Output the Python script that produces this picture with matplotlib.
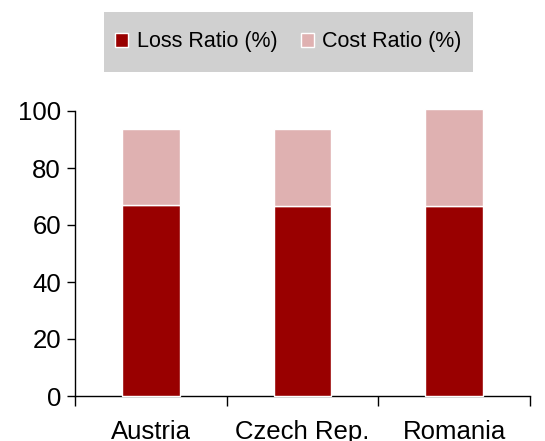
import matplotlib
matplotlib.use("Agg")
import matplotlib.pyplot as plt
from matplotlib.patches import Patch, Rectangle
import numpy as np

categories = ["Austria", "Czech Rep.", "Romania"]
loss_ratio = [67.1, 66.6, 66.6]
cost_ratio = [26.6, 27.0, 34.0]
series_names = ["Loss Ratio (%)", "Cost Ratio (%)"]
yticks = [0, 20, 40, 60, 80, 100]

dark = "#990000"
pink = "#DFB1B1"

plt.rcParams['font.family'] = ['Liberation Sans', 'DejaVu Sans']

fig = plt.figure(figsize=(5.45, 4.41), dpi=100)
ax = fig.add_axes([75/545, 1-396/441, (530-75)/545, (396-111)/441])

x = np.arange(len(categories))
w = 0.38
ax.bar(x, loss_ratio, w, color=dark, edgecolor="white", linewidth=1, clip_on=False, zorder=3)
ax.bar(x, cost_ratio, w, bottom=loss_ratio, color=pink, edgecolor="white", linewidth=1, clip_on=False, zorder=3)

ax.set_xlim(-0.5, len(categories)-0.5)
ax.set_ylim(0, 100)
ax.set_yticks(yticks)
ax.set_xticks(np.arange(len(categories)+1) - 0.5, minor=True)
ax.set_xticks(x)
ax.set_xticklabels(categories)
ax.tick_params(axis='x', which='major', length=0, pad=17, labelsize=18.5)
ax.tick_params(axis='x', which='minor', length=7, width=1, direction='out')
ax.tick_params(axis='y', length=6, width=1, direction='out', labelsize=18.5, pad=4)
for s in ['top', 'right']:
    ax.spines[s].set_visible(False)
for s in ['left', 'bottom']:
    ax.spines[s].set_linewidth(1)

# legend background box
fig.patches.append(Rectangle((104/545, 1-72/441), (473-104)/545, (72-12)/441,
                             transform=fig.transFigure, facecolor="#D0D0D0",
                             edgecolor="none", zorder=0))
handles = [Patch(facecolor=dark, edgecolor="white", linewidth=1),
           Patch(facecolor=pink, edgecolor="white", linewidth=1)]
fig.legend(handles, series_names, loc="center", bbox_to_anchor=((104+473)/2/545, 1-42/441),
           ncol=2, frameon=False, fontsize=15.5, handlelength=0.6, handleheight=0.6,
           handletextpad=0.4, columnspacing=1.1)

fig.savefig("out.png", dpi=100)
